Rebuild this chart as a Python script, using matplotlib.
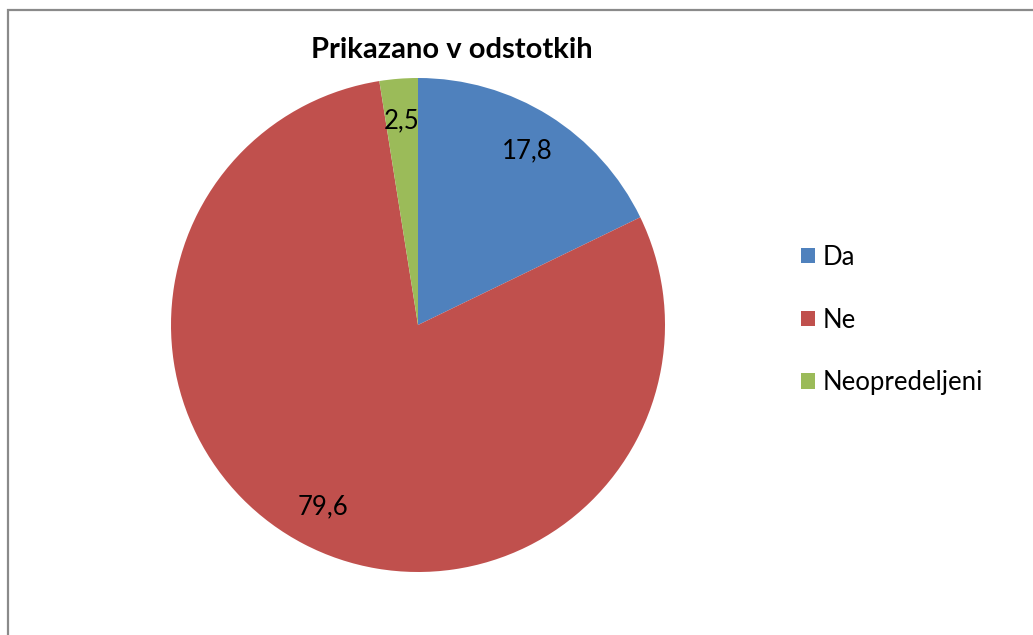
import matplotlib.pyplot as plt
from matplotlib.patches import Rectangle, Patch

# data
labels = ['Da', 'Ne', 'Neopredeljeni']
values = [17.8, 79.6, 2.5]
value_texts = ['17,8', '79,6', '2,5']
colors = ['#4F81BD', '#C0504D', '#9BBB59']
title = 'Prikazano v odstotkih'

plt.rcParams['font.family'] = ['Lato', 'DejaVu Sans']

W, H = 1033, 635
fig = plt.figure(figsize=(W / 100, H / 100), dpi=100)

# frame of the chart area (only top and left edges are visible)
fig.patches.append(Rectangle((7.5 / W, -0.1), 1.2, (H - 10) / H + 0.1,
                             transform=fig.transFigure, fill=False,
                             edgecolor='#8a8a8a', linewidth=1.6))

# pie centred at (418, 325) px, radius 247 px
cx, cy, r = 418, 325, 247
ax = fig.add_axes([(cx - r) / W, (H - cy - r) / H, 2 * r / W, 2 * r / H])
wedges, texts = ax.pie(values, colors=colors, startangle=90, counterclock=False,
                       labels=value_texts, labeldistance=0.83,
                       textprops=dict(fontsize=18.5, color='black', ha='center', va='center'),
                       wedgeprops=dict(linewidth=0))
ax.set_xlim(-1, 1)
ax.set_ylim(-1, 1)
ax.set_aspect('auto')
ax.axis('off')

fig.text(452 / W, 1 - 50 / H, title, ha='center', va='center',
         fontsize=21, fontweight='bold')

handles = [Patch(facecolor=c, edgecolor='none') for c in colors]
fig.legend(handles, labels, loc='center left', bbox_to_anchor=(801 / W, 1 - 320 / H),
           frameon=False, fontsize=18.5, labelspacing=1.47, handlelength=0.55,
           handleheight=0.55, handletextpad=0.3, borderpad=0, borderaxespad=0)

fig.savefig('out.png', dpi=100)
